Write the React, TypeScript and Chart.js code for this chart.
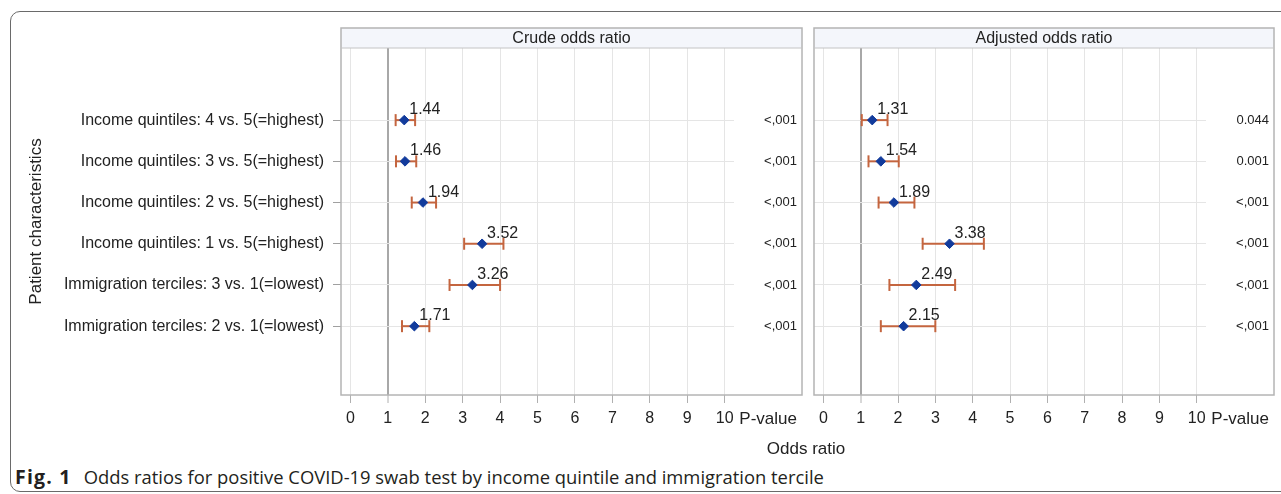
import React, { useEffect, useRef } from 'react';
import { Chart, registerables } from 'chart.js';

Chart.register(...registerables);

// ---------- data ----------
const categories = [
  'Income quintiles: 4 vs. 5(=highest)',
  'Income quintiles: 3 vs. 5(=highest)',
  'Income quintiles: 2 vs. 5(=highest)',
  'Income quintiles: 1 vs. 5(=highest)',
  'Immigration terciles: 3 vs. 1(=lowest)',
  'Immigration terciles: 2 vs. 1(=lowest)',
];

const crudeOR = [1.44, 1.46, 1.94, 3.52, 3.26, 1.71];
const crudeLower = [1.21, 1.22, 1.64, 3.04, 2.65, 1.38];
const crudeUpper = [1.73, 1.76, 2.29, 4.09, 4.0, 2.11];
const crudeP = ['<,001', '<,001', '<,001', '<,001', '<,001', '<,001'];

const adjustedOR = [1.31, 1.54, 1.89, 3.38, 2.49, 2.15];
const adjustedLower = [1.03, 1.21, 1.48, 2.66, 1.77, 1.54];
const adjustedUpper = [1.72, 2.02, 2.44, 4.3, 3.53, 3.0];
const adjustedP = ['0.044', '0.001', '<,001', '<,001', '<,001', '<,001'];

const xTickValues = [0, 1, 2, 3, 4, 5, 6, 7, 8, 9, 10];
const referenceValue = 1;
const panelTitles = ['Crude odds ratio', 'Adjusted odds ratio'];
const pValueLabel = 'P-value';
const yAxisTitle = 'Patient characteristics';
const xAxisTitle = 'Odds ratio';
const captionBold = 'Fig. 1';
const captionText = 'Odds ratios for positive COVID-19 swab test by income quintile and immigration tercile';

// ---------- styling ----------
const FONT = "'Liberation Sans', Arial, Helvetica, sans-serif";
const POINT_COLOR = '#123b9c';
const BAR_COLOR = '#c4653f';
const TEXT_COLOR = '#222222';
const GRID_COLOR = '#e5e5e5';
const REF_COLOR = '#a8a8a8';
const PANEL_BORDER = '#b4b4b4';
const PVAL_COL_WIDTH = 68;
const HEADER_TOP = 28;

type PanelProps = {
  or: number[];
  lo: number[];
  hi: number[];
  p: string[];
  title: string;
  showY: boolean;
  width: number;
  height: number;
  padLeft: number;
};

function makeDecorPlugin(props: PanelProps) {
  return {
    id: 'panelDecor',
    beforeDraw(chart: any) {
      const { ctx, chartArea: ca } = chart;
      const left = ca.left;
      const right = ca.right + PVAL_COL_WIDTH;
      ctx.save();
      ctx.fillStyle = '#f4f6fb';
      ctx.fillRect(left, HEADER_TOP, right - left, ca.top - HEADER_TOP);
      ctx.fillStyle = TEXT_COLOR;
      ctx.font = `16px ${FONT}`;
      ctx.textAlign = 'center';
      ctx.textBaseline = 'middle';
      ctx.fillText(props.title, (left + right) / 2, (HEADER_TOP + ca.top) / 2 + 1);
      ctx.restore();
    },
    afterDatasetsDraw(chart: any) {
      const { ctx, chartArea: ca } = chart;
      const yScale = chart.scales.y;
      const xScale = chart.scales.x;
      const right = ca.right + PVAL_COL_WIDTH;
      ctx.save();
      // data labels
      const meta = chart.getDatasetMeta(0);
      ctx.fillStyle = TEXT_COLOR;
      ctx.font = `16px ${FONT}`;
      ctx.textAlign = 'left';
      ctx.textBaseline = 'alphabetic';
      meta.data.forEach((el: any, i: number) => {
        ctx.fillText(props.or[i].toFixed(2), el.x + 5, el.y - 6);
      });
      // p-values
      ctx.font = `13px ${FONT}`;
      ctx.textAlign = 'right';
      ctx.textBaseline = 'middle';
      props.p.forEach((txt, i) => {
        ctx.fillText(txt, right - 5, yScale.getPixelForValue(i + 1));
      });
      // P-value axis label
      ctx.font = `17px ${FONT}`;
      ctx.fillText(pValueLabel, right - 5, xScale.top + 8 + 6 + 10);
      // panel border
      ctx.strokeStyle = PANEL_BORDER;
      ctx.lineWidth = 1.5;
      ctx.strokeRect(ca.left, HEADER_TOP, right - ca.left, ca.bottom - HEADER_TOP);
      ctx.beginPath();
      ctx.moveTo(ca.left, ca.top);
      ctx.lineTo(right, ca.top);
      ctx.strokeStyle = '#c4c4c4';
      ctx.lineWidth = 1;
      ctx.stroke();
      ctx.restore();
    },
  };
}

function Panel(props: PanelProps) {
  const ref = useRef<HTMLCanvasElement | null>(null);
  useEffect(() => {
    if (!ref.current) return;
    const yIdx = categories.map((_, i) => i + 1);
    const barSets = yIdx.map((y, i) => ({
      type: 'scatter' as const,
      data: [
        { x: props.lo[i], y },
        { x: props.hi[i], y },
      ],
      showLine: true,
      borderColor: BAR_COLOR,
      borderWidth: 2,
      pointStyle: 'line',
      rotation: 90,
      pointRadius: 6,
      pointHoverRadius: 6,
      pointBorderColor: BAR_COLOR,
      pointBorderWidth: 2,
      order: 2,
    }));
    const chart = new Chart(ref.current, {
      type: 'scatter',
      data: {
        datasets: [
          {
            data: yIdx.map((y, i) => ({ x: props.or[i], y })),
            pointStyle: 'rectRot',
            pointRadius: 4.8,
            pointHoverRadius: 4.8,
            backgroundColor: POINT_COLOR,
            borderColor: POINT_COLOR,
            borderWidth: 1,
            order: 0,
          } as any,
          ...barSets,
        ],
      },
      options: {
        animation: false,
        responsive: false,
        events: [],
        layout: {
          padding: {
            left: props.padLeft,
            right: props.width - props.padLeft - (props.showY ? 341 : 0) - 393,
            top: 48,
            bottom: props.height - 395 - 45,
          },
        },
        plugins: {
          legend: { display: false },
          tooltip: { enabled: false },
        },
        scales: {
          x: {
            type: 'linear',
            position: 'bottom',
            min: -0.25,
            max: 10.25,
            afterBuildTicks: (scale: any) => {
              scale.ticks = xTickValues.map((v) => ({ value: v }));
            },
            afterFit: (scale: any) => {
              scale.height = 45;
            },
            ticks: {
              autoSkip: false,
              maxRotation: 0,
              padding: 6,
              color: TEXT_COLOR,
              font: { family: FONT, size: 16 },
              callback: (v: any) => String(v),
            },
            grid: {
              color: (c: any) => (c.tick && c.tick.value === referenceValue ? REF_COLOR : GRID_COLOR),
              lineWidth: (c: any) => (c.tick && c.tick.value === referenceValue ? 2 : 1),
              tickColor: '#b0b0b0',
              tickLength: 8,
              tickWidth: 1,
            },
            border: { display: false },
          },
          y: {
            type: 'linear',
            position: 'left',
            reverse: true,
            min: -0.75,
            max: 7.67,
            display: true,
            afterBuildTicks: (scale: any) => {
              scale.ticks = yIdx.map((v) => ({ value: v }));
            },
            afterFit: (scale: any) => {
              scale.width = props.showY ? 341 : 0;
            },
            title: {
              display: props.showY,
              text: yAxisTitle,
              color: TEXT_COLOR,
              font: { family: FONT, size: 17 },
              padding: { top: 26, bottom: 0 },
            },
            ticks: {
              display: props.showY,
              autoSkip: false,
              padding: 9,
              color: TEXT_COLOR,
              font: { family: FONT, size: 16 },
              callback: (v: any) => categories[Number(v) - 1] ?? '',
            },
            grid: {
              color: GRID_COLOR,
              lineWidth: 1,
              drawTicks: props.showY,
              tickLength: 8,
              tickColor: '#a0a0a0',
            },
            border: { display: false },
          },
        },
      } as any,
      plugins: [makeDecorPlugin(props)],
    });
    return () => chart.destroy();
  }, []);
  return (
    <canvas
      ref={ref}
      width={props.width}
      height={props.height}
      style={{ width: props.width, height: props.height, display: 'block' }}
    />
  );
}

export default function App() {
  return (
    <div
      style={{
        position: 'absolute',
        left: 0,
        top: 0,
        width: 1281,
        height: 494,
        overflow: 'hidden',
        background: '#ffffff',
      }}
    >
      <div
        style={{
          position: 'absolute',
          left: 10,
          top: 11,
          width: 1300,
          height: 481,
          border: '1.5px solid #6a6a6a',
          borderRadius: 10,
          boxSizing: 'border-box',
        }}
      />
      <div style={{ position: 'absolute', left: 0, top: 0 }}>
        <Panel
          or={crudeOR}
          lo={crudeLower}
          hi={crudeUpper}
          p={crudeP}
          title={panelTitles[0]}
          showY={true}
          width={806}
          height={440}
          padLeft={0}
        />
      </div>
      <div style={{ position: 'absolute', left: 806, top: 0 }}>
        <Panel
          or={adjustedOR}
          lo={adjustedLower}
          hi={adjustedUpper}
          p={adjustedP}
          title={panelTitles[1]}
          showY={false}
          width={475}
          height={440}
          padLeft={7}
        />
      </div>
      <div
        style={{
          position: 'absolute',
          left: 706,
          top: 439,
          width: 200,
          textAlign: 'center',
          fontFamily: FONT,
          fontSize: 17,
          lineHeight: '20px',
          color: TEXT_COLOR,
        }}
      >
        {xAxisTitle}
      </div>
      <div
        style={{
          position: 'absolute',
          left: 15,
          top: 464,
          fontFamily: "'Open Sans', 'Noto Sans', sans-serif",
          fontSize: 18.4,
          lineHeight: '26px',
          color: '#231f20',
          whiteSpace: 'nowrap',
        }}
      >
        <b style={{ fontSize: 19.5, letterSpacing: 1.2 }}>{captionBold}</b>
        <span style={{ marginLeft: 12 }}>{captionText}</span>
      </div>
    </div>
  );
}
